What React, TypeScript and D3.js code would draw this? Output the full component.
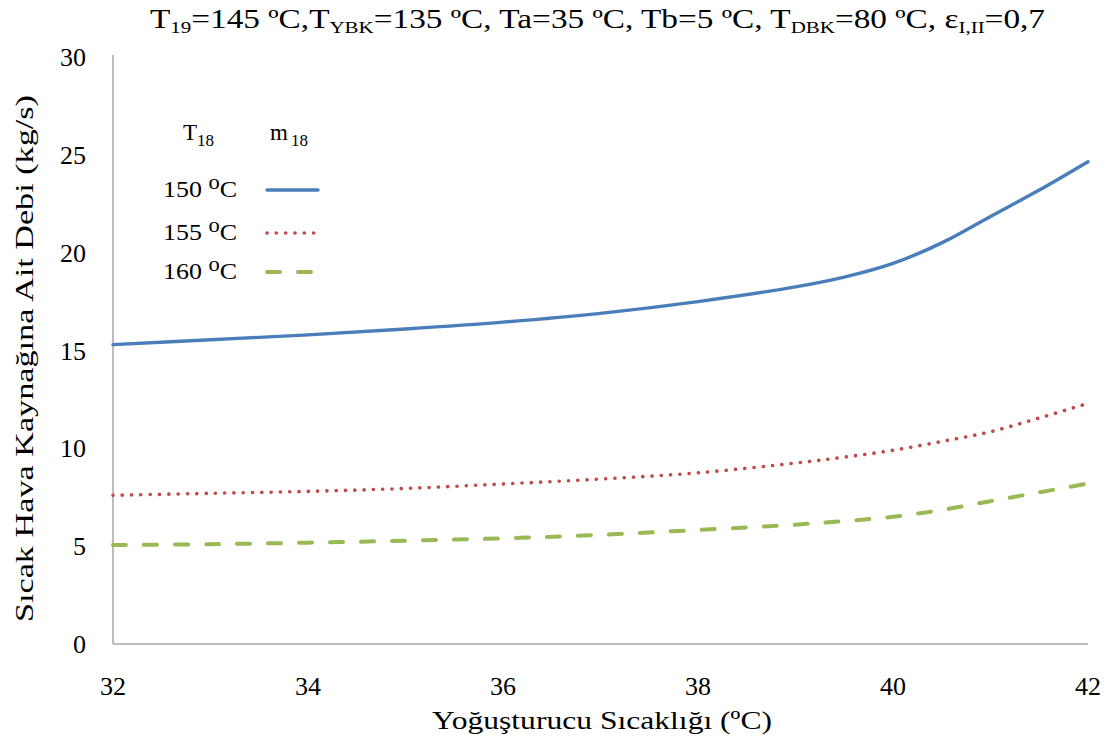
import React from "react";
import * as d3 from "d3";

const xValues = [32, 33, 34, 35, 36, 37, 38, 39, 39.5, 40, 40.5, 41, 41.5, 42];
const m150 = [15.3, 15.55, 15.8, 16.1, 16.45, 16.9, 17.5, 18.25, 18.75, 19.45, 20.5, 21.85, 23.2, 24.65];
const m155 = [7.6, 7.7, 7.8, 7.95, 8.18, 8.43, 8.75, 9.25, 9.55, 9.9, 10.35, 10.85, 11.55, 12.3];
const m160 = [5.06, 5.1, 5.18, 5.28, 5.4, 5.58, 5.83, 6.1, 6.28, 6.5, 6.85, 7.3, 7.75, 8.2];
const xTicks = [32, 34, 36, 38, 40, 42];
const yTicks = [0, 5, 10, 15, 20, 25, 30];
const legendLabels = ["150", "155", "160"];

const W = 1111;
const H = 740;
const left = 113;
const right = 1088;
const top = 57;
const bottom = 644;
const FONT = "'Liberation Serif', 'Times New Roman', serif";

export default function App() {
  const x = d3.scaleLinear().domain([32, 42]).range([left, right]);
  const y = d3.scaleLinear().domain([0, 30]).range([bottom, top]);
  const line = d3
    .line<number>()
    .x((_, i) => x(xValues[i]))
    .y((d) => y(d))
    .curve(d3.curveCatmullRom.alpha(0.5));

  const series = [
    { data: m150, color: "#4a7ebb", dash: "none", width: 3.4, cap: "round" },
    { data: m155, color: "#be4b48", dash: "0.1 9.2", width: 3.6, cap: "round" },
    { data: m160, color: "#98b954", dash: "13 18", width: 4, cap: "round" },
  ];

  return (
    <svg width={W} height={H} style={{ position: "absolute", left: 0, top: 0, background: "#fff" }} fontFamily={FONT}>
      <rect x={0} y={0} width={W} height={H} fill="#fff" />
      {/* title */}
      <text x={150} y={28} fontSize={27} fill="#000" textLength={895} lengthAdjust="spacingAndGlyphs">
        <tspan>T</tspan>
        <tspan fontSize={17} dy={5}>19</tspan>
        <tspan dy={-5}>=145 ºC,T</tspan>
        <tspan fontSize={17} dy={5}>YBK</tspan>
        <tspan dy={-5}>=135  ºC, Ta=35 ºC, Tb=5 ºC, T</tspan>
        <tspan fontSize={17} dy={5}>DBK</tspan>
        <tspan dy={-5}>=80  ºC, ε</tspan>
        <tspan fontSize={17} dy={5}>I,II</tspan>
        <tspan dy={-5}>=0,7</tspan>
      </text>

      {/* axes */}
      <line x1={left} y1={top - 2} x2={left} y2={bottom} stroke="#a6a6a6" strokeWidth={1.5} />
      <line x1={left} y1={bottom} x2={right} y2={bottom} stroke="#a6a6a6" strokeWidth={1.5} />

      {yTicks.map((t) => (
        <text key={"y" + t} x={86} y={y(t) + 9} fontSize={26} textAnchor="end" fill="#000">
          {t}
        </text>
      ))}
      {xTicks.map((t) => (
        <text key={"x" + t} x={x(t)} y={695} fontSize={26} textAnchor="middle" fill="#000">
          {t}
        </text>
      ))}

      <text x={432} y={729} fontSize={26} fill="#000" textLength={340} lengthAdjust="spacingAndGlyphs">
        Yoğuşturucu Sıcaklığı  (ºC)
      </text>
      <text
        transform={`translate(33, 622) rotate(-90)`}
        fontSize={26}
        fill="#000"
        textLength={527}
        lengthAdjust="spacingAndGlyphs"
      >
        Sıcak Hava Kaynağına  Ait Debi (kg/s)
      </text>

      {/* series */}
      {series.map((s, i) => (
        <path
          key={i}
          d={line(s.data) || ""}
          fill="none"
          stroke={s.color}
          strokeWidth={s.width}
          strokeDasharray={s.dash}
          strokeLinecap={s.cap as any}
        />
      ))}

      {/* legend */}
      <text x={183} y={140} fontSize={23} fill="#000">
        <tspan>T</tspan>
        <tspan fontSize={17} dy={6}>18</tspan>
      </text>
      <text x={270} y={140} fontSize={23} fill="#000">
        <tspan>m</tspan>
        <tspan fontSize={17} dy={6} dx={3}>18</tspan>
      </text>
      {legendLabels.map((l, i) => {
        const ly = [197, 240, 279][i];
        const s = series[i];
        return (
          <g key={l}>
            <text x={163} y={ly} fontSize={23} fill="#000" textLength={74} lengthAdjust="spacingAndGlyphs">
              <tspan>{l} </tspan>
              <tspan fontSize={20} dy={-8}>o</tspan>
              <tspan dy={8}>C</tspan>
            </text>
            <line
              x1={267}
              x2={318}
              y1={ly - 7}
              y2={ly - 7}
              stroke={s.color}
              strokeWidth={s.width}
              strokeDasharray={s.dash}
              strokeLinecap={s.cap as any}
            />
          </g>
        );
      })}
    </svg>
  );
}
